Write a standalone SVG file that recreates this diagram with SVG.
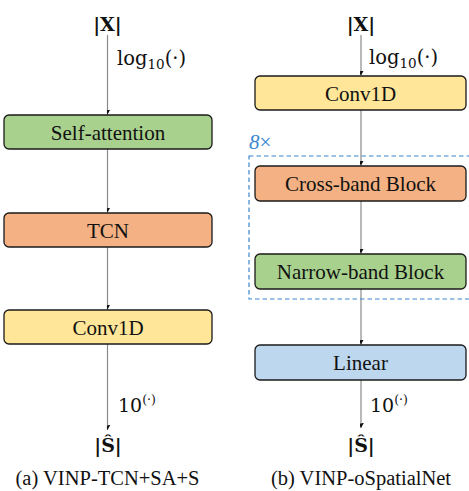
<svg xmlns="http://www.w3.org/2000/svg" width="469" height="491" viewBox="0 0 469 491">
  <defs>
    <marker id="arrow" viewBox="-5 -8 10 9" markerWidth="10" markerHeight="9" refX="0" refY="0" orient="auto-start-reverse" markerUnits="userSpaceOnUse">
      <path d="M0,0 L-3.6,-6.5 L0,-4.2 L3.6,-6.5 Z" fill="#111" transform="rotate(-90)"/>
    </marker>
    <style>
      .box { stroke: #1a1a1a; stroke-width: 1.3; }
      .green { fill: #a9d18e; }
      .orange { fill: #f4b183; }
      .yellow { fill: #ffe699; }
      .blue { fill: #bdd7ee; }
      .serif { font-family: 'Liberation Serif', Tinos, 'Times New Roman', 'DejaVu Serif', serif; }
      .label { font-size: 21px; fill: #111; text-anchor: middle; }
      .math { font-family: 'DejaVu Serif', 'Liberation Serif', serif; fill: #111; }
      .caption { font-size: 20.5px; fill: #111; text-anchor: middle; }
      .link { stroke: #8a8a8a; stroke-width: 1.2; fill: none; marker-end: url(#arrow); }
    </style>
  </defs>
  <rect width="469" height="491" fill="#ffffff"/>

  <!-- connectors -->
  <g id="connectors">
    <line class="link" x1="107.5" y1="35" x2="107.5" y2="114.5"/>
    <line class="link" x1="107.5" y1="149" x2="107.5" y2="212.5"/>
    <line class="link" x1="107.5" y1="247" x2="107.5" y2="309.5"/>
    <line class="link" x1="107.5" y1="344" x2="107.5" y2="430"/>
    <line class="link" x1="361" y1="35" x2="361" y2="75.5"/>
    <line class="link" x1="361" y1="110" x2="361" y2="165.5"/>
    <line class="link" x1="361" y1="201" x2="361" y2="253.5"/>
    <line class="link" x1="361" y1="289" x2="361" y2="344.5"/>
    <line class="link" x1="361" y1="380" x2="361" y2="428"/>
  </g>

  <!-- repeat group (8 times) -->
  <g id="repeat-group">
    <rect x="249" y="156" width="230" height="143" fill="none" stroke="#3b87cf" stroke-width="1.2" stroke-dasharray="4.5,3"/>
    <text class="serif" x="249" y="149" font-size="21px" fill="#3b87cf"><tspan font-style="italic">8</tspan>×</text>
  </g>

  <!-- left pipeline -->
  <g id="left-input">
    <text class="math" x="107.5" y="31" font-size="19px" text-anchor="middle" font-weight="bold">|X|</text>
    <text class="math" x="117" y="65" font-size="19.5px">log<tspan font-size="13.5px" dy="4">10</tspan><tspan dy="-4">(·)</tspan></text>
  </g>
  <g id="self-attention">
    <rect class="box green" x="4" y="115" width="208" height="34" rx="5"/>
    <text class="serif label" x="108" y="139.5">Self-attention</text>
  </g>
  <g id="tcn">
    <rect class="box orange" x="4" y="213" width="208" height="34" rx="5"/>
    <text class="serif label" x="108" y="237.5">TCN</text>
  </g>
  <g id="conv1d-left">
    <rect class="box yellow" x="4" y="310" width="208" height="34" rx="5"/>
    <text class="serif label" x="108" y="334.5">Conv1D</text>
  </g>
  <g id="left-output">
    <text class="math" x="118" y="412" font-size="19px">10<tspan font-size="12.5px" dy="-8">(·)</tspan></text>
    <text class="math" x="108" y="452" font-size="19px" text-anchor="middle" font-weight="bold">|Ŝ|</text>
  </g>
  <text class="serif caption" x="107.5" y="485">(a) VINP-TCN+SA+S</text>

  <!-- right pipeline -->
  <g id="right-input">
    <text class="math" x="361" y="31" font-size="19px" text-anchor="middle" font-weight="bold">|X|</text>
    <text class="math" x="369" y="64" font-size="19.5px">log<tspan font-size="13.5px" dy="4">10</tspan><tspan dy="-4">(·)</tspan></text>
  </g>
  <g id="conv1d-right">
    <rect class="box yellow" x="255" y="76" width="211" height="34" rx="5"/>
    <text class="serif label" x="360.5" y="100.5">Conv1D</text>
  </g>
  <g id="cross-band">
    <rect class="box orange" x="255" y="166" width="211" height="35" rx="5"/>
    <text class="serif label" x="360.5" y="191">Cross-band Block</text>
  </g>
  <g id="narrow-band">
    <rect class="box green" x="255" y="254" width="211" height="35" rx="5"/>
    <text class="serif label" x="360.5" y="279">Narrow-band Block</text>
  </g>
  <g id="linear">
    <rect class="box blue" x="255" y="345" width="211" height="35" rx="5"/>
    <text class="serif label" x="360.5" y="370">Linear</text>
  </g>
  <g id="right-output">
    <text class="math" x="370" y="412" font-size="19px">10<tspan font-size="12.5px" dy="-8">(·)</tspan></text>
    <text class="math" x="361" y="452" font-size="19px" text-anchor="middle" font-weight="bold">|Ŝ|</text>
  </g>
  <text class="serif caption" x="361" y="485">(b) VINP-oSpatialNet</text>
</svg>
